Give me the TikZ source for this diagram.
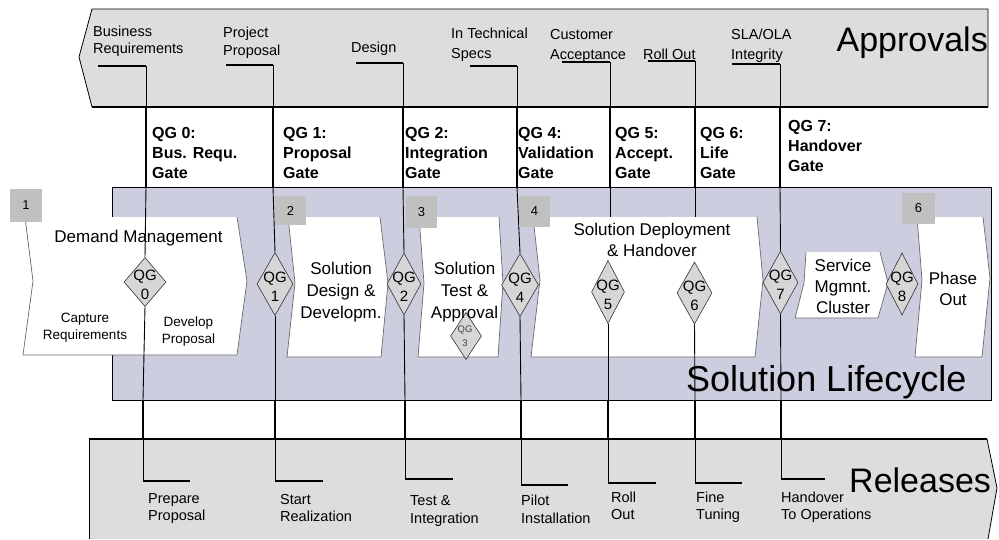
\documentclass[tikz,border=0pt]{standalone}
\usepackage{fontspec}
\setmainfont{Liberation Sans}
\usetikzlibrary{shapes.geometric}

\definecolor{bandgray}{RGB}{221,221,221}
\definecolor{lifelav}{RGB}{205,205,224}
\definecolor{numgray}{RGB}{192,192,192}
\definecolor{gategray}{RGB}{214,214,214}
\definecolor{edgegray}{RGB}{105,105,105}

\tikzset{
  band/.style={fill=bandgray},
  bandedge/.style={draw=black, line width=0.8pt},
  uline/.style={draw=black, line width=1.6pt},
  vthin/.style={draw=black, line width=0.9pt},
  vthick/.style={draw=black, line width=2.2pt},
  phaseedge/.style={draw=edgegray, line width=0.7pt},
  apl/.style={font=\fontsize{14.5}{17}\selectfont, inner sep=0pt, anchor=north west, align=left},
  qgl/.style={font=\bfseries\fontsize{16}{20}\selectfont, inner sep=0pt, anchor=north west, align=left},
  phasetxt/.style={font=\fontsize{17}{22}\selectfont, inner sep=0pt, anchor=north, align=center},
  subtxt/.style={font=\fontsize{13.5}{17.5}\selectfont, inner sep=0pt, anchor=north, align=center},
  gate/.style={diamond, draw=black!80, fill=gategray, line width=0.6pt, inner sep=0pt},
  gatetxt/.style={font=\fontsize{15}{19}\selectfont, inner sep=0pt, align=center},
  numbox/.style={fill=numgray, inner sep=0pt, font=\fontsize{13}{15}\selectfont},
  bigtitle/.style={font=\fontsize{34}{40}\selectfont, inner sep=0pt}
}

\begin{document}
\begin{tikzpicture}[x=1pt, y=-1pt]
\useasboundingbox (0,0) rectangle (999,539);

% ---------- Approvals band ----------
\fill[band] (92,9) -- (988,9) -- (988,107) -- (92,107) -- (79,57) -- cycle;
\draw[bandedge] (92,107) -- (79,57) -- (92,9) -- (988,9) -- (988,107);
\draw[draw=black, line width=1.8pt] (92,107) -- (988,107);

% ---------- Releases band ----------
\fill[band] (89,539) -- (89,439) -- (987,439) -- (997,488) -- (988,539) -- cycle;
\draw[bandedge] (89,539) -- (89,439);
\draw[bandedge] (987,439) -- (997,488) -- (988,539);
\draw[draw=black, line width=1.8pt] (89,439) -- (987,439);

% ---------- Solution lifecycle band ----------
\filldraw[fill=lifelav, draw=black, line width=0.9pt] (112,187) rectangle (991,400);

% ---------- Phase chevrons ----------
% Demand Management
\fill[white] (25,217) -- (237,217) -- (247,281) -- (237,355) -- (23,355) -- (33,281) -- cycle;
\draw[phaseedge] (237,217) -- (247,281) -- (237,355) -- (23,355) -- (33,281) -- (25,217);
% Solution Design & Development
\fill[white] (288,217) -- (380,217) -- (388,283) -- (381,357) -- (287,357) -- (295,283) -- cycle;
\draw[phaseedge] (380,217) -- (388,283) -- (381,357) -- (287,357) -- (295,283) -- (288,217);
% Solution Test & Approval
\fill[white] (419,217) -- (499,217) -- (503,283) -- (498,357) -- (418,357) -- (424,283) -- cycle;
\draw[phaseedge] (499,217) -- (503,283) -- (498,357) -- (418,357) -- (424,283) -- (419,217);
% Solution Deployment & Handover
\coordinate (depTop) at (533,217);
\fill[white] (533,217) -- (757,217) -- (763,280) -- (755,357) -- (531,357) -- (540,280) -- cycle;
\draw[phaseedge] (757,217) -- (763,280) -- (755,357) -- (531,357) -- (540,280) -- (533,217);
% Service Management Cluster
\fill[white] (806,252) -- (880,252) -- (888,283) -- (878,318) -- (795,318) -- (804,283) -- cycle;
\draw[phaseedge] (880,252) -- (888,283) -- (878,318) -- (795,318) -- (804,283) -- (806,252);
% Phase Out
\fill[white] (917,217) -- (983,217) -- (990,278) -- (982,357) -- (915,357) -- (922,280) -- cycle;
\draw[phaseedge] (983,217) -- (990,278) -- (982,357) -- (915,357) -- (922,280) -- (917,217);

% ---------- Quality gate diamonds ----------
\node[gate, minimum width=42, minimum height=49] (q0) at (145,282) {};
\node[gate, minimum width=36, minimum height=63] (q1) at (275,284) {};
\node[gate, minimum width=34, minimum height=62] (q2) at (404,284) {};
\node[gate, minimum width=31, minimum height=47] (q3) at (466,336) {};
\node[gate, minimum width=37, minimum height=63] (q4) at (520,285) {};
\node[gate, minimum width=33, minimum height=63] (q5) at (608,292) {};
\node[gate, minimum width=35, minimum height=62] (q6) at (694.5,293) {};
\node[gate, minimum width=35, minimum height=63] (q7) at (780.5,282.5) {};
\node[gate, minimum width=32, minimum height=62] (q8) at (902,284) {};

\node[gatetxt] (q0t) at (145,284.5) {QG\\0};
\node[gatetxt] (q1t) at (275,286.5) {QG\\1};
\node[gatetxt] (q2t) at (404,286.5) {QG\\2};
\node[gatetxt, font=\fontsize{9.5}{14}\selectfont, text=black!75] (q3t) at (465,336) {QG\\3};
\node[gatetxt] (q4t) at (520,287.5) {QG\\4};
\node[gatetxt] (q5t) at (608,294.5) {QG\\5};
\node[gatetxt] (q6t) at (694.5,295.5) {QG\\6};
\node[gatetxt] (q7t) at (780.5,285) {QG\\7};
\node[gatetxt] (q8t) at (902,286.5) {QG\\8};

% ---------- Gate connectors: approval -> gate -> release ----------
\foreach \k/\xt/\ay/\ax/\xb/\cy/\ex in
  {0/146/66/98/143/481/190, 1/273/65/226/275/481/323, 2/403/63/356/405/479/453,
   4/517/66/470/521/485/568, 5/610/62/562/608/483/656, 6/695/61/648/695/483/742,
   7/780/64/732/781/479/825}{
  \coordinate (a\k) at (\ax,\ay);
  \coordinate (b\k) at (\xt,\ay);
  \coordinate (t\k) at (\xt,107);
  \coordinate (u\k) at (\xt,187);
  \coordinate (l\k) at (\xb,400);
  \coordinate (r\k) at (\xb,439);
  \coordinate (c\k) at (\xb,\cy);
  \coordinate (e\k) at (\ex,\cy);
  \draw[uline] (a\k) -- (b\k);
  \draw[vthin] (b\k) -- (t\k);
  \draw[vthick] (t\k) -- (u\k);
  \draw[vthin] (q\k.south) -- (l\k);
  \draw[vthick] (l\k) -- (r\k);
  \draw[vthin] (r\k) -- (c\k);
  \draw[uline] (c\k) -- (e\k);
}
% upper gate lines inside the lifecycle band
\foreach \k in {0,1,2,4,7}{\draw[vthin] (u\k) -- (q\k.north);}
\foreach \k in {5,6}{\draw[vthin] (u\k) -- (u\k |- depTop);}

% ---------- Phase number boxes ----------
\node[numbox, minimum width=32, minimum height=33] (n1) at (26,205.5) {1};
\node[numbox, minimum width=31, minimum height=29] (n2) at (290.5,210.5) {2};
\node[numbox, minimum width=31, minimum height=32] (n3) at (421.5,212) {3};
\node[numbox, minimum width=31, minimum height=31] (n4) at (534.5,211.5) {4};
\node[numbox, minimum width=33, minimum height=31] (n6) at (918.5,208.5) {6};

% ---------- Phase texts ----------
\node[phasetxt] (tDM) at (138.5,230) {Demand Management};
\node[subtxt, font=\fontsize{13.5}{17}\selectfont] (tCR) at (85,312.5) {Capture\\Requirements};
\node[subtxt] (tDP) at (188.5,316.5) {Develop\\Proposal};
\node[phasetxt] (tSD) at (341,261.5) {Solution\\Design \&\\Developm.};
\node[phasetxt] (tST) at (464.5,261.5) {Solution\\Test \&\\Approval};
\node[phasetxt, font=\fontsize{17}{21}\selectfont] (tDH) at (652,223) {Solution Deployment\\\& Handover};
\node[phasetxt, font=\fontsize{17}{21}\selectfont] (tSM) at (843,259) {Service\\Mgmnt.\\Cluster};
\node[phasetxt, font=\fontsize{17}{21}\selectfont] (tPO) at (953,271.5) {Phase\\Out};

% ---------- Approval labels ----------
\node[apl] (apBR) at (93,25.5) {Business\\Requirements};
\node[apl, font=\fontsize{14.5}{18}\selectfont] (apPP) at (223,27) {Project\\Proposal};
\node[apl] (apDe) at (351,42) {Design};
\node[apl, font=\fontsize{14.5}{20}\selectfont] (apTS) at (451,28) {In Technical\\Specs};
\node[apl, font=\fontsize{14.5}{20}\selectfont] (apCA) at (550,29) {Customer\\Acceptance};
\node[apl] (apRO) at (643,49) {Roll Out};
\node[apl, font=\fontsize{14.5}{20}\selectfont] (apSI) at (731,29) {SLA/OLA\\Integrity};

% ---------- Gate titles ----------
\node[qgl] (g0) at (152,127) {QG 0:\\Bus. Requ.\\Gate};
\node[qgl] (g1) at (283,127) {QG 1:\\Proposal\\Gate};
\node[qgl] (g2) at (405,127) {QG 2:\\Integration\\Gate};
\node[qgl] (g4) at (518,127) {QG 4:\\Validation\\Gate};
\node[qgl] (g5) at (615,127) {QG 5:\\Accept.\\Gate};
\node[qgl] (g6) at (700,127) {QG 6:\\Life\\Gate};
\node[qgl] (g7) at (788,120) {QG 7:\\Handover\\Gate};

% ---------- Release labels ----------
\node[apl, font=\fontsize{14.5}{17.5}\selectfont] (rPP) at (148,493) {Prepare\\Proposal};
\node[apl, font=\fontsize{14.5}{17.5}\selectfont] (rSR) at (280,494) {Start\\Realization};
\node[apl, font=\fontsize{14.5}{18}\selectfont] (rTI) at (410,495.5) {Test \&\\Integration};
\node[apl, font=\fontsize{14.5}{17.5}\selectfont] (rPI) at (521,495) {Pilot\\Installation};
\node[apl, font=\fontsize{14.5}{17.5}\selectfont] (rRO) at (611,491.5) {Roll\\Out};
\node[apl, font=\fontsize{14.5}{17.5}\selectfont] (rFT) at (696,491.5) {Fine\\Tuning};
\node[apl, font=\fontsize{14.5}{17.5}\selectfont] (rHO) at (781,491.5) {Handover\\To Operations};

% ---------- Band titles ----------
\node[bigtitle, anchor=base east] (tApp) at (988,51) {Approvals};
\node[bigtitle, anchor=base west] (tRel) at (849,492) {Releases};
\node[font=\fontsize{36}{40}\selectfont, inner sep=0pt, anchor=base west] (tLife) at (686,391) {Solution Lifecycle};
\end{tikzpicture}
\end{document}
